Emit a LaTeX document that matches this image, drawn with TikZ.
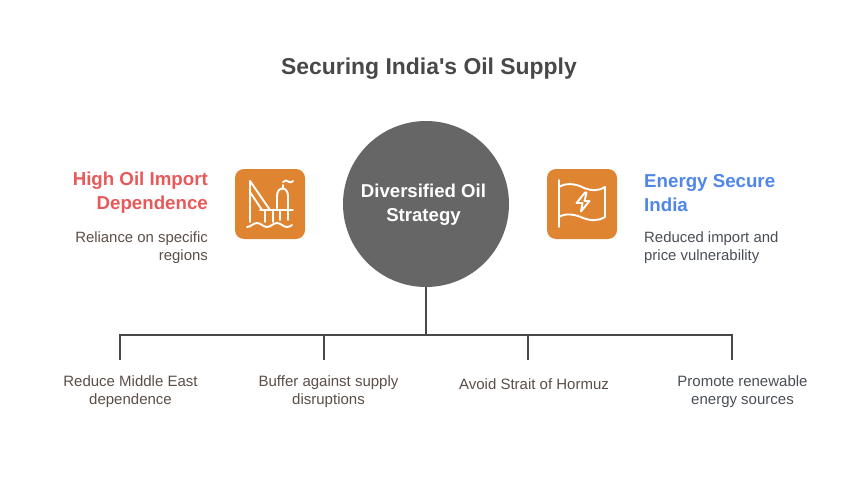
\documentclass[tikz,border=0pt]{standalone}
\usepackage{fontspec}
\setmainfont{Liberation Sans}
\newfontfamily\plainquote{Liberation Sans}
\definecolor{orangebox}{HTML}{DF8430}
\definecolor{hubgray}{HTML}{666666}
\definecolor{titlegray}{HTML}{484848}
\definecolor{linegray}{HTML}{484848}
\definecolor{redhead}{HTML}{E85A5A}
\definecolor{bluehead}{HTML}{4F86E8}
\definecolor{brownlabel}{HTML}{5C4F48}
\definecolor{slatelabel}{HTML}{4A4F57}
\tikzset{
  x=1pt,y=-1pt,
  hub/.style={circle,fill=hubgray,minimum size=166pt,inner sep=0pt},
  hubtext/.style={text=white,align=center,font=\fontsize{18.6}{24}\selectfont\bfseries,inner sep=0pt},
  iconbox/.style={rounded corners=9pt,fill=orangebox,minimum size=70pt,inner sep=0pt},
  icon/.style={draw=white,line width=1.9pt,line cap=round,line join=round},
  bus/.style={draw=linegray,line width=1.8pt},
  headl/.style={anchor=east,align=right,font=\fontsize{18.7}{24}\selectfont\bfseries,text=redhead,inner sep=0pt},
  headr/.style={anchor=west,align=left,font=\fontsize{18.7}{24}\selectfont\bfseries,text=bluehead,inner sep=0pt},
  descl/.style={anchor=east,align=right,font=\fontsize{14.9}{18}\selectfont,text=brownlabel,inner sep=0pt},
  descr/.style={anchor=west,align=left,font=\fontsize{14.9}{18}\selectfont,text=slatelabel,inner sep=0pt},
  leaf/.style={align=center,font=\fontsize{15}{18}\selectfont,inner sep=0pt},
}
\begin{document}
\begin{tikzpicture}
\useasboundingbox (0,0) rectangle (858,492);
\fill[white] (0,0) rectangle (858,492);
\node[font=\fontsize{22.9}{28}\plainquote\selectfont\bfseries,text=titlegray] (title) at (429,69) {Securing India's Oil Supply};
\node[hub] (hub) at (426,204) {};
\node[hubtext] (hubt) at (423.5,205) {Diversified Oil\\Strategy};
\node[iconbox] (boxL) at (270,204) {};
\node[iconbox] (boxR) at (582,204) {};
% rig icon
\begin{scope}[shift={(225,160)},x=1pt,y=-1pt]
\draw[icon] (25,62) -- (25,21) -- (45,50);
\draw[icon] (25,32) -- (37,50);
\draw[icon] (35,50) -- (68,50);
\draw[icon] (40,50) -- (40,62) (48,50) -- (48,62) (55,50) -- (55,60);
\draw[icon] (52,50) -- (52,36) .. controls (52,26) and (63,26) .. (63,36) -- (63,60);
\draw[icon] (58,25) -- (58,29);
\draw[icon] (58,22) .. controls (60,20) and (62,20) .. (63,21.5) .. controls (65,23) and (67,22.5) .. (68,21);
\draw[icon] (22,67) .. controls (26,67) and (28,63) .. (32,63) .. controls (36,63) and (38,67) .. (42,67) .. controls (46,67) and (48,63) .. (52,63) .. controls (56,63) and (58,67) .. (62,67) .. controls (64,67) and (66,66) .. (67,65);
\end{scope}
% flag icon
\begin{scope}[shift={(537,160)},x=1pt,y=-1pt]
\draw[icon] (22,20) -- (22,67);
\draw[icon] (22,27) .. controls (28,23) and (38,23) .. (47,28) .. controls (55,31) and (62,31) .. (68,27) -- (68,57) .. controls (62,61) and (54,61) .. (46,58) .. controls (38,54) and (28,53) .. (22,57);
\draw[icon] (48,32.5) -- (39.5,43) -- (45.5,43) -- (44,51.5) -- (52.5,41) -- (47.5,41) -- (49.5,32.5) -- cycle;
\end{scope}
\node[headl] (hl) at (208,193) {High Oil Import\\Dependence};
\node[descl] (dl) at (208,248) {Reliance on specific\\regions};
\node[headr] (hr) at (644,193) {Energy Secure\\India};
\node[descr] (dr) at (644,248) {Reduced import and\\price vulnerability};
\coordinate (j) at (426,335);
\coordinate (a) at (120,335);
\coordinate (b) at (324,335);
\coordinate (c) at (528,335);
\coordinate (d) at (732,335);
\coordinate (a2) at (120,360);
\coordinate (b2) at (324,360);
\coordinate (c2) at (528,360);
\coordinate (d2) at (732,360);
\draw[bus] (hub.south) -- (j);
\draw[bus] (a2) -- (a) -- (d) -- (d2);
\draw[bus] (b) -- (b2);
\draw[bus] (c) -- (c2);
\node[leaf,text=brownlabel] (la) at (130.5,392) {Reduce Middle East\\dependence};
\node[leaf,text=brownlabel] (lb) at (328.5,392) {Buffer against supply\\disruptions};
\node[leaf,text=brownlabel] (lc) at (534,384) {Avoid Strait of Hormuz};
\node[leaf,text=slatelabel] (ld) at (742.5,392) {Promote renewable\\energy sources};
\end{tikzpicture}
\end{document}
